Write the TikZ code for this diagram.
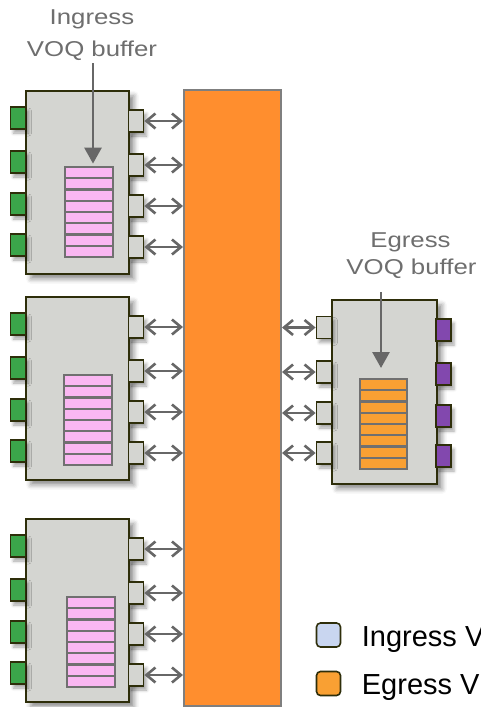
\documentclass[tikz,border=0pt]{standalone}
\usepackage{fontspec}
\setmainfont{Liberation Sans}
\newfontfamily\lblfont{Liberation Sans}[FakeStretch=1.2]
\newfontfamily\legfont{Liberation Sans}
\usetikzlibrary{arrows.meta,calc,shadows.blur}
\definecolor{boxfill}{HTML}{D4D5D1}
\definecolor{boxline}{HTML}{2E2E0A}
\definecolor{portgreen}{HTML}{3BA54A}
\definecolor{portpurple}{HTML}{8248AE}
\definecolor{slotpink}{HTML}{FAB7F2}
\definecolor{slotorange}{HTML}{F9A033}
\definecolor{slotline}{HTML}{707070}
\definecolor{barorange}{HTML}{FF8E2E}
\definecolor{bargray}{HTML}{7F7F7F}
\definecolor{arrowgray}{HTML}{676767}
\definecolor{lblgray}{HTML}{6E6E6E}
\definecolor{legblue}{HTML}{C9D6F0}
\tikzset{
  card/.style={draw=boxline, line width=1.8pt, fill=boxfill, inner sep=0pt, anchor=north west,
    blur shadow={shadow xshift=5pt, shadow yshift=-5pt, shadow blur radius=5pt, shadow opacity=45}},
  port/.style={draw=boxline, line width=1.8pt, inner sep=0pt, minimum width=15pt, minimum height=22pt,
    blur shadow={shadow xshift=3pt, shadow yshift=-4pt, shadow blur radius=3pt, shadow opacity=35}},
  gport/.style={port, fill=portgreen},
  pport/.style={port, fill=portpurple},
  oport/.style={port, fill=boxfill},
  bufbox/.style={inner sep=0pt, minimum width=48pt, minimum height=90pt, anchor=north west},
  slot/.style={draw=slotline, line width=2.2pt},
  link/.style={draw=arrowgray, line width=2.6pt,
    {Straight Barb[length=9pt,width=15pt]}-{Straight Barb[length=9pt,width=15pt]}},
  pointer/.style={draw=arrowgray, line width=2.8pt, -{Triangle[length=16pt,width=17pt]}},
  lbl/.style={font=\lblfont\fontsize{21.5}{26}\selectfont, text=lblgray, inner sep=0pt, anchor=base},
  legsq/.style={draw=boxline, line width=1.6pt, rounded corners=4pt, minimum size=24pt, inner sep=0pt},
  legtxt/.style={font=\legfont\fontsize{29}{34}\selectfont, text=black, inner sep=0pt, anchor=base west},
}
\begin{document}
\begin{tikzpicture}[x=1pt, y=-1pt]
\useasboundingbox (0,0) rectangle (481,707);
\clip (0,0) rectangle (481,707);

% central switch fabric bar
\node[draw=bargray, line width=2pt, fill=barorange, minimum width=97pt, minimum height=616pt,
  anchor=north west, inner sep=0pt] (bar) at (183,89) {};

% ingress cards
\foreach \k/\top/\bx/\by in {1/90/65/167, 2/296/64/375, 3/518/67/597} {
  \node[card, minimum width=103pt, minimum height=183pt] (in\k) at (25,\top) {};
  \foreach \j/\gy/\oy in {1/28/31, 2/72/75, 3/114/116, 4/155/157} {
    \node[gport] (g\k\j) at (18,\top+\gy) {};
    \node[oport] (o\k\j) at (136,\top+\oy) {};
    \draw[link] (o\k\j.east) -- (o\k\j.east -| bar.west);
  }
  \node[bufbox] (buf\k) at (\bx,\by) {};
  \foreach \i in {0,...,7} {
    \draw[slot, fill=slotpink] ($(buf\k.north west)+(0,\i*11.25)$) rectangle ++(48,11.25);
  }
}

% egress card
\node[card, minimum width=105pt, minimum height=184pt] (eg) at (331,299) {};
\foreach \j/\ly/\py in {1/327.5/330, 2/372/374, 3/413/416, 4/453/456} {
  \node[oport] (e\j) at (324,\ly) {};
  \node[pport] (q\j) at (443.5,\py) {};
  \draw[link] (bar.east |- e\j.west) -- (e\j.west);
}
\node[bufbox, minimum width=47pt] (ebuf) at (360,379) {};
\foreach \i in {0,...,7} {
  \draw[slot, fill=slotorange] ($(ebuf.north west)+(0,\i*11.25)$) rectangle ++(47,11.25);
}

% labels and pointers
\node[lbl] (il1) at (92,24.5) {Ingress};
\node[lbl] (il2) at (92,56.5) {VOQ buffer};
\coordinate (ia) at (93,63);
\draw[pointer] (ia) -- ($(ia |- buf1.north)+(0,-3.4)$);

\node[lbl] (el1) at (410.5,247.7) {Egress};
\node[lbl] (el2) at (411.5,274.3) {VOQ buffer};
\coordinate (ea) at (381,292);
\draw[pointer] (ea) -- ($(ea |- ebuf.north)+(0,-11)$);

% legend
\node[legsq, fill=legblue] (lg1) at (328.5,635) {};
\node[legtxt] (lt1) at (361.7,646) {Ingress V};
\node[legsq, fill=slotorange] (lg2) at (328.5,683.5) {};
\node[legtxt] (lt2) at (361.7,694.3) {Egress V};
\end{tikzpicture}
\end{document}
